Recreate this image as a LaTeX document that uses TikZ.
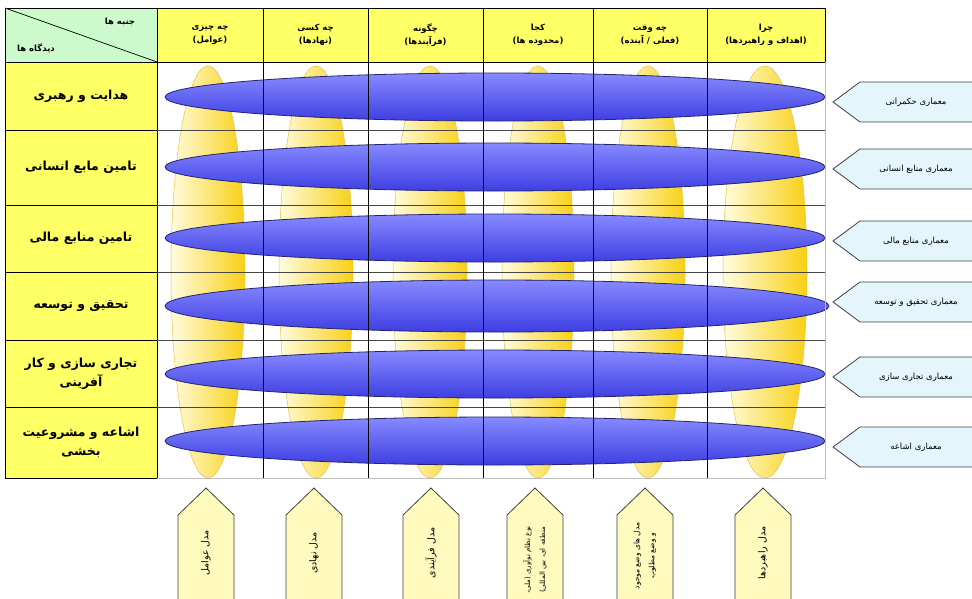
\documentclass[tikz,border=0pt]{standalone}
\usepackage{fontspec}
\usepackage{tikz}
\newfontfamily\fa[Script=Arabic]{DejaVu Sans}
\TeXXeTstate=1
\newcommand{\fatext}[1]{\beginR #1\endR}

\definecolor{cellyellow}{RGB}{255,255,102}
\definecolor{cellgreen}{RGB}{204,250,204}
\definecolor{gridgray}{RGB}{70,70,70}
\definecolor{edgegray}{RGB}{190,190,190}
\definecolor{tagcyan}{RGB}{228,246,252}
\definecolor{tagyellow}{RGB}{255,250,190}
\definecolor{pillpale}{RGB}{255,252,222}
\definecolor{pillgold}{RGB}{248,208,20}
\definecolor{pilledge}{RGB}{228,196,70}
\definecolor{barlight}{RGB}{208,210,255}
\definecolor{bartop}{RGB}{135,138,255}
\definecolor{barbottom}{RGB}{62,62,226}
\definecolor{baredge}{RGB}{35,35,110}

\tikzset{
  cell/.style={draw=black, line width=0.9pt},
  coltext/.style={font=\fa\bfseries\fontsize{8.5}{13}\selectfont, align=center},
  rowtext/.style={font=\fa\bfseries\fontsize{12.5}{19}\selectfont, align=center},
  tagtext/.style={font=\fa\fontsize{8.5}{10}\selectfont, align=center},
  pill/.style={shading=axis, left color=pillpale, right color=pillgold, draw=pilledge, line width=0.5pt},
  bar/.style={top color=bartop, middle color=barlight, bottom color=barbottom, draw=baredge, line width=0.8pt},
  tag/.style={fill=tagcyan, draw=black!75, line width=0.8pt},
  uptag/.style={fill=tagyellow, draw=black!75, line width=0.8pt},
}

\begin{document}
\begin{tikzpicture}[x=1pt, y=-1pt]
    \useasboundingbox (0,0) rectangle (972,598);
    \fill[white] (0,0) rectangle (972,598);

    % header row
    \filldraw[cell, fill=cellgreen] (5,8) rectangle (157,62);
    \draw[black, line width=0.7pt] (5,8) -- (157,62);
    \node[coltext] (aspects) at (120,22) {\fatext{جنبه ها}};
    \node[coltext] (views) at (36,48) {\fatext{دیدگاه ها}};
    \filldraw[cell, fill=cellyellow] (157,8) rectangle (263,62) node[pos=0.5, coltext] (what) {\fatext{چه چیزی}\\\fatext{(عوامل)}};
    \filldraw[cell, fill=cellyellow] (263,8) rectangle (368,62) node[pos=0.5, coltext] (who) {\fatext{چه کسی}\\\fatext{(نهادها)}};
    \filldraw[cell, fill=cellyellow] (368,8) rectangle (483,62) node[pos=0.5, coltext] (how) {\fatext{چگونه}\\\fatext{(فرآیندها)}};
    \filldraw[cell, fill=cellyellow] (483,8) rectangle (593,62) node[pos=0.5, coltext] (where) {\fatext{کجا}\\\fatext{(محدوده ها)}};
    \filldraw[cell, fill=cellyellow] (593,8) rectangle (707,62) node[pos=0.5, coltext] (when) {\fatext{چه وقت}\\\fatext{(فعلی / آینده)}};
    \filldraw[cell, fill=cellyellow] (707,8) rectangle (825,62) node[pos=0.5, coltext] (why) {\fatext{چرا}\\\fatext{(اهداف و راهبردها)}};

    % left column
    \filldraw[cell, fill=cellyellow] (5,62) rectangle (157,130) node[pos=0.5, rowtext] (lead) {\fatext{هدایت و رهبری}};
    \filldraw[cell, fill=cellyellow] (5,130) rectangle (157,205) node[pos=0.5, rowtext] (staff) {\fatext{تامین مابع انسانی}};
    \filldraw[cell, fill=cellyellow] (5,205) rectangle (157,272) node[pos=0.5, rowtext] (fund) {\fatext{تامین منابع مالی}};
    \filldraw[cell, fill=cellyellow] (5,272) rectangle (157,340) node[pos=0.5, rowtext] (rnd) {\fatext{تحقیق و توسعه}};
    \filldraw[cell, fill=cellyellow] (5,340) rectangle (157,407) node[pos=0.5, rowtext] (comm) {\fatext{تجاری سازی و کار}\\\fatext{آفرینی}};
    \filldraw[cell, fill=cellyellow] (5,407) rectangle (157,478) node[pos=0.5, rowtext] (diff) {\fatext{اشاعه و مشروعیت}\\\fatext{بخشی}};

    % vertical pills
    \shadedraw[pill] (208,272) ellipse [x radius=37, y radius=206];
    \shadedraw[pill] (316,272) ellipse [x radius=37, y radius=206];
    \shadedraw[pill] (430,272) ellipse [x radius=37, y radius=206];
    \shadedraw[pill] (538,272) ellipse [x radius=36, y radius=206];
    \shadedraw[pill] (648,272) ellipse [x radius=37, y radius=206];
    \shadedraw[pill] (765,272) ellipse [x radius=42, y radius=206];

    % horizontal bars
    \shadedraw[bar] (495,97) ellipse [x radius=330, y radius=24];
    \shadedraw[bar] (495,167) ellipse [x radius=330, y radius=24];
    \shadedraw[bar] (495,238) ellipse [x radius=330, y radius=24];
    \shadedraw[bar] (497,306) ellipse [x radius=332, y radius=26];
    \shadedraw[bar] (495,374) ellipse [x radius=330, y radius=24];
    \shadedraw[bar] (495,441) ellipse [x radius=330, y radius=24];

    % grid
    \draw[gridgray, line width=0.8pt] (157,130) -- (825,130) (157,205) -- (825,205) (157,272) -- (825,272)
        (157,340) -- (825,340) (157,407) -- (825,407);
    \draw[black, line width=0.8pt] (263,62) -- (263,478) (368,62) -- (368,478) (483,62) -- (483,478)
        (593,62) -- (593,478) (707,62) -- (707,478);
    \draw[edgegray, line width=0.8pt] (825,62) -- (825,478) -- (157,478);

    % architecture tags
    \filldraw[tag] (985,82) -- (860,82) -- (833,102) -- (860,122) -- (985,122) -- cycle;
    \node[tagtext] (govarch) at (916,102) {\fatext{معماری حکمرانی}};
    \filldraw[tag] (985,149) -- (860,149) -- (833,169) -- (860,189) -- (985,189) -- cycle;
    \node[tagtext] (hrarch) at (916,169) {\fatext{معماری منابع انسانی}};
    \filldraw[tag] (985,221) -- (860,221) -- (833,241) -- (860,261) -- (985,261) -- cycle;
    \node[tagtext] (finarch) at (916,241) {\fatext{معماری منابع مالی}};
    \filldraw[tag] (985,282) -- (860,282) -- (833,302) -- (860,322) -- (985,322) -- cycle;
    \node[tagtext] (rndarch) at (916,302) {\fatext{معماری تحقیق و توسعه}};
    \filldraw[tag] (985,357) -- (860,357) -- (833,377) -- (860,397) -- (985,397) -- cycle;
    \node[tagtext] (commarch) at (916,377) {\fatext{معماری تجاری سازی}};
    \filldraw[tag] (985,427) -- (860,427) -- (833,447) -- (860,467) -- (985,467) -- cycle;
    \node[tagtext] (diffarch) at (916,447) {\fatext{معماری اشاعه}};

    % model tags
    \filldraw[uptag] (178,610) -- (178,515) -- (206,488) -- (234,515) -- (234,610) -- cycle;
    \node[tagtext, font=\fa\fontsize{9.5}{12}\selectfont, rotate=90] (agentmodel) at (206,553) {\fatext{مدل عوامل}};
    \filldraw[uptag] (286,610) -- (286,515) -- (314,488) -- (342,515) -- (342,610) -- cycle;
    \node[tagtext, font=\fa\fontsize{9.5}{12}\selectfont, rotate=90] (instmodel) at (314,553) {\fatext{مدل نهادی}};
    \filldraw[uptag] (403,610) -- (403,515) -- (431,488) -- (459,515) -- (459,610) -- cycle;
    \node[tagtext, font=\fa\fontsize{9.5}{12}\selectfont, rotate=90] (procmodel) at (431,553) {\fatext{مدل فرآیندی}};
    \filldraw[uptag] (507,610) -- (507,515) -- (535,488) -- (563,515) -- (563,610) -- cycle;
    \node[tagtext, font=\fa\fontsize{7}{15}\selectfont, rotate=90] (scopemodel) at (535,560) {\fatext{نوع نظام نوآوری (ملی،}\\\fatext{منطقه ای، بین المللی)}};
    \filldraw[uptag] (617,610) -- (617,515) -- (645,488) -- (673,515) -- (673,610) -- cycle;
    \node[tagtext, font=\fa\fontsize{7.5}{15}\selectfont, rotate=90] (statemodel) at (645,556) {\fatext{مدل های وضع موجود}\\\fatext{و وضع مطلوب}};
    \filldraw[uptag] (735,610) -- (735,515) -- (763,488) -- (791,515) -- (791,610) -- cycle;
    \node[tagtext, font=\fa\fontsize{9.5}{12}\selectfont, rotate=90] (stratmodel) at (763,553) {\fatext{مدل راهبردها}};
\end{tikzpicture}
\end{document}
